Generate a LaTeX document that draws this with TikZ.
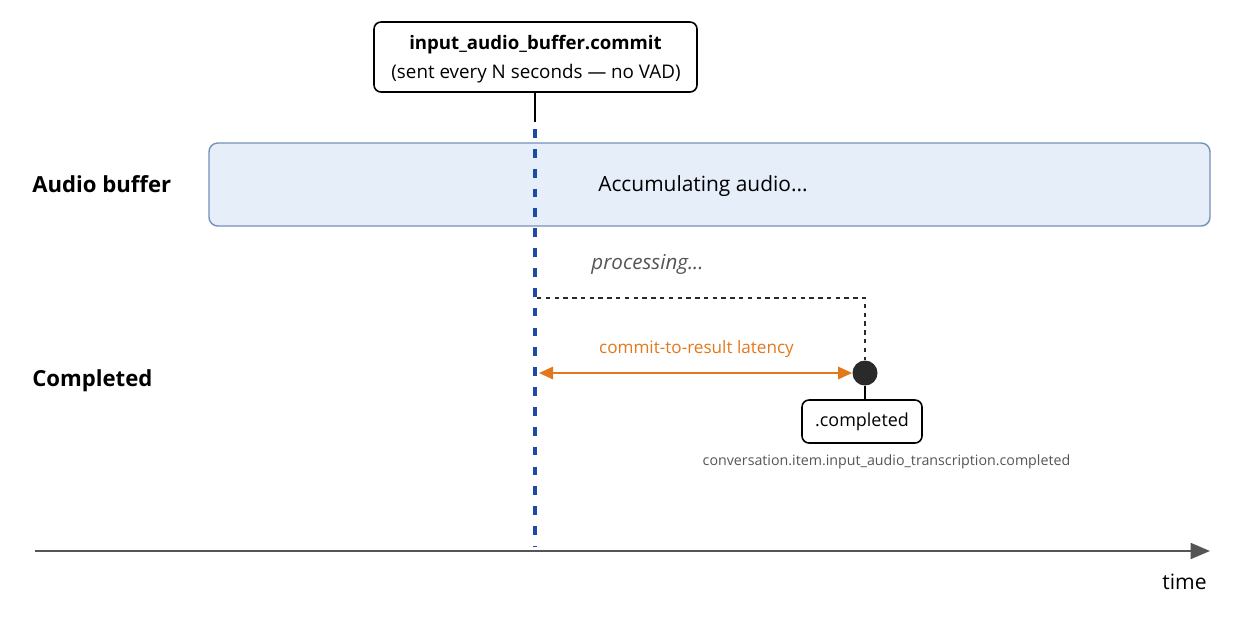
\documentclass[tikz,border=0pt]{standalone}
\usepackage{fontspec}
\setmainfont{Open Sans}
\usetikzlibrary{arrows.meta}
\definecolor{vline}{HTML}{1C4AA6}
\definecolor{buffill}{HTML}{E6EEF9}
\definecolor{bufdraw}{HTML}{7391B8}
\definecolor{lat}{HTML}{E2781C}
\definecolor{txtgray}{HTML}{555555}
\definecolor{axis}{HTML}{555555}
\definecolor{dotc}{HTML}{2A2A2A}
\tikzset{
  evbox/.style={draw=black, line width=0.9pt, rounded corners=4pt, fill=white, align=center, inner sep=0pt},
  lanelabel/.style={anchor=west, font=\bfseries\fontsize{12.6}{15}\selectfont, inner sep=0pt},
}
\begin{document}
\begin{tikzpicture}[x=0.02cm,y=-0.02cm]
\useasboundingbox (0,0) rectangle (1241,620);
% buffer
\node[draw=bufdraw, fill=buffill, line width=0.8pt, rounded corners=5pt, minimum width=1001*0.02cm, minimum height=83*0.02cm, inner sep=0pt] (buf) at (709.5,184.5) {};
\node[font=\fontsize{11.9}{14}\selectfont] (acc) at (703,186) {Accumulating audio...};
% lane labels
\node[lanelabel] (lab1) at (32,184) {Audio buffer};
\node[lanelabel] (lab2) at (32,381) {Completed};
% commit box
\node[evbox, minimum width=323*0.02cm, minimum height=70*0.02cm] (commit) at (535.5,57) {};
\node[font=\bfseries\fontsize{10.6}{12}\selectfont] (ct1) at (535.5,45) {input\_audio\_buffer.commit};
\node[font=\fontsize{10.7}{12}\selectfont] (ct2) at (536,74) {(sent every N seconds — no VAD)};
% commit line
\coordinate (cl) at (535,122);
\coordinate (ctop) at (535,129);
\coordinate (cbot) at (535,546);
\draw[line width=0.8pt] (commit.south -| cl) -- (cl);
\draw[vline, line width=2.1pt, dash pattern=on 5pt off 6.3pt] (ctop) -- (cbot);
% processing
\node[font=\itshape\fontsize{11.7}{14}\selectfont, text=txtgray] (proc) at (647.5,264) {processing...};
% dot and completed
\node[circle, fill=dotc, minimum size=25*0.02cm, inner sep=0pt] (dot) at (865,373) {};
\coordinate (pstart) at (537,298);
\coordinate (pcorner) at (865,298);
\draw[dotc, line width=0.9pt, dash pattern=on 2.5pt off 2.5pt] (pstart) -- (pcorner) -- (dot.north);
\node[evbox, minimum width=120*0.02cm, minimum height=43*0.02cm, font=\fontsize{10.2}{12}\selectfont] (comp) at (862,421.5) {.completed};
\draw[line width=0.9pt] (dot.south) -- (dot.south |- comp.north);
\node[font=\fontsize{8.1}{10}\selectfont, text=txtgray] (full) at (886.5,462) {conversation.item.input\_audio\_transcription.completed};
% latency
\coordinate (la) at (539,373);
\draw[lat, line width=1.3pt, {Triangle[length=8pt,width=7pt]}-{Triangle[length=8pt,width=7pt]}] (dot.west -| la) -- (dot.west);
\node[font=\fontsize{9.75}{11}\selectfont, text=lat] (latlab) at (696.5,349) {commit-to-result latency};
% time axis
\coordinate (t0) at (35,551);
\coordinate (t1) at (1210,551);
\draw[axis, line width=1.3pt, -{Triangle[length=11pt,width=9pt]}] (t0) -- (t1);
\node[font=\fontsize{12}{14}\selectfont, text=black] (time) at (1184.5,582) {time};
\end{tikzpicture}
\end{document}
